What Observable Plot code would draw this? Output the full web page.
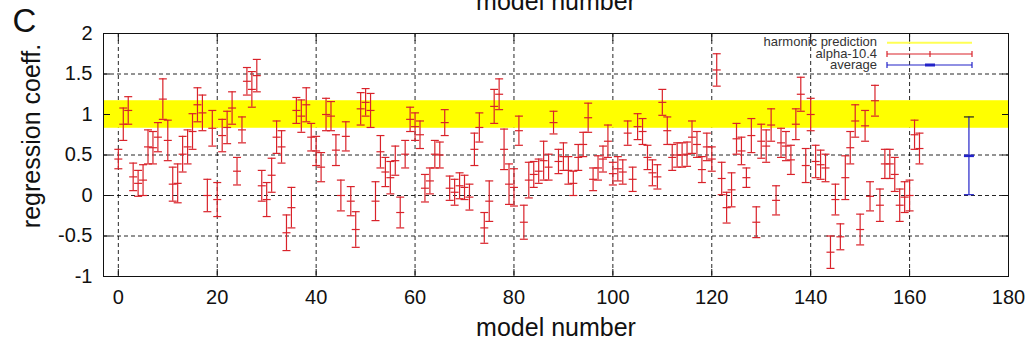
<!DOCTYPE html>
<html><head><meta charset="utf-8">
<script src="https://cdn.jsdelivr.net/npm/d3@7"></script>
<script src="https://cdn.jsdelivr.net/npm/@observablehq/plot@0.6"></script>
<style>
html,body{margin:0;padding:0;background:#fff;}
#chart{width:1034px;height:345px;overflow:hidden;position:relative;}
svg{display:block;}
</style>
</head><body><div id="chart"></div>
<script>
// ---- data ----
const coeffValues = [
0.45, 0.88, 1.05, 0.23, 0.15, 0.19, 0.6, 0.59, 0.72, 1.19,
0.68, 0.14, 0.15, 0.51, 0.6, 0.79, 1.12, 1.02, 0.0, 0.83,
-0.05, 0.74, 0.84, 1.08, 0.3, 0.81, 1.41, 1.31, 1.48, 0.12,
-0.05, 0.25, 0.72, 0.6, -0.46, -0.15, 1.05, 0.98, 1.12, 0.72,
0.55, 0.35, 1.0, 0.98, 0.56, 0.0, 0.73, -0.07, -0.42, 1.07,
1.15, 1.05, -0.07, 0.54, 0.29, 0.22, 0.43, -0.21, 0.51, 0.94,
0.85, 0.75, 0.09, 0.18, 0.51, 0.5, 0.9, 0.09, 0.04, 0.12,
0.1, -0.02, 0.57, 0.84, -0.4, -0.07, 1.1, 1.25, 0.57, 0.14,
0.1, 0.8, -0.33, 0.19, 0.26, 0.3, 0.43, 0.35, 0.9, 0.42,
0.48, 0.31, 0.15, 0.47, 0.63, 0.96, 0.2, 0.34, 0.45, 0.67,
0.27, 0.33, 0.29, 0.77, 0.2, 0.85, 0.79, 0.47, 0.28, 0.23,
1.15, 0.8, 0.47, 0.5, 0.5, 0.51, 0.72, 0.63, 0.32, 0.6,
0.45, 1.55, 0.21, -0.15, 0.07, 0.7, 0.55, 0.22, 0.74, -0.33,
0.67, 0.61, 0.87, -0.06, 0.65, 0.61, 0.44, 0.88, 1.25, 0.37,
1.0, 0.42, 0.38, 0.34, -0.7, -0.05, -0.51, 0.22, 0.59, 0.92,
-0.42, 0.86, -0.01, 1.17, -0.12, 0.39, 0.39, 0.26, -0.12, -0.02,
0.0, 0.75, 0.58
];
const coeffErrors = [
0.12, 0.2, 0.17, 0.17, 0.16, 0.19, 0.21, 0.2, 0.18, 0.25,
0.25, 0.21, 0.24, 0.22, 0.21, 0.22, 0.21, 0.22, 0.2, 0.22,
0.21, 0.2, 0.2, 0.2, 0.17, 0.16, 0.17, 0.22, 0.2, 0.19,
0.21, 0.21, 0.2, 0.2, 0.22, 0.25, 0.16, 0.2, 0.21, 0.17,
0.18, 0.18, 0.2, 0.18, 0.19, 0.19, 0.18, 0.18, 0.22, 0.2,
0.17, 0.21, 0.24, 0.2, 0.18, 0.2, 0.18, 0.19, 0.17, 0.15,
0.17, 0.17, 0.17, 0.16, 0.17, 0.16, 0.16, 0.15, 0.16, 0.16,
0.15, 0.16, 0.2, 0.18, 0.19, 0.25, 0.21, 0.19, 0.25, 0.25,
0.23, 0.18, 0.21, 0.22, 0.16, 0.15, 0.24, 0.16, 0.14, 0.15,
0.17, 0.17, 0.15, 0.16, 0.15, 0.18, 0.14, 0.15, 0.16, 0.2,
0.14, 0.15, 0.15, 0.15, 0.15, 0.16, 0.16, 0.15, 0.16, 0.15,
0.16, 0.17, 0.16, 0.15, 0.15, 0.15, 0.2, 0.16, 0.16, 0.17,
0.15, 0.2, 0.2, 0.19, 0.21, 0.19, 0.17, 0.12, 0.21, 0.19,
0.21, 0.2, 0.2, 0.18, 0.18, 0.18, 0.18, 0.19, 0.21, 0.21,
0.2, 0.2, 0.18, 0.17, 0.2, 0.19, 0.16, 0.27, 0.2, 0.2,
0.19, 0.19, 0.18, 0.19, 0.2, 0.18, 0.18, 0.21, 0.2, 0.19,
0.19, 0.18, 0.19
];
const averageModel = [172];
const averageValue = [0.49];
const averageError = [0.48];
const harmonicLow = [0.83];
const harmonicHigh = [1.17];
const xTicks = [0, 20, 40, 60, 80, 100, 120, 140, 160, 180];
const yTicks = [-1, -0.5, 0, 0.5, 1, 1.5, 2];
const legendLabels = ["harmonic prediction", "alpha-10.4", "average"];

// ---- tables built from the arrays ----
const rows = coeffValues.map((v, i) => ({model: i, value: v, err: coeffErrors[i]}));
const avgRows = averageModel.map((m, i) => ({model: m, value: averageValue[i], err: averageError[i]}));
const band = harmonicLow.map((lo, i) => ({lo, hi: harmonicHigh[i]}));

const RED = "#d9222a";
const BLUE = "#2222c8";
const YELLOW = "#ffff00";
const FONT = "'Liberation Sans', Arial, Helvetica, sans-serif";

const capSmall = {draw(ctx) { ctx.moveTo(-4, 0); ctx.lineTo(4, 0); }};
const capWide = {draw(ctx) { ctx.moveTo(-5, 0); ctx.lineTo(5, 0); }};

const gridStyle = {stroke: "#000", strokeOpacity: 0.85, strokeDasharray: "4,3", strokeWidth: 1};

const chart = Plot.plot({
  width: 1034,
  height: 345,
  marginLeft: 103,
  marginRight: 26,
  marginTop: 33,
  marginBottom: 69,
  style: {fontFamily: FONT, background: "#fff", color: "#111"},
  x: {domain: [-3, 180]},
  y: {domain: [-1, 2]},
  marks: [
    Plot.gridX(xTicks, gridStyle),
    Plot.gridY(yTicks, gridStyle),
    Plot.rect(band, {y1: "lo", y2: "hi", fill: YELLOW}),
    // red error bars
    Plot.ruleX(rows, {x: "model", y1: d => d.value - d.err, y2: d => d.value + d.err, stroke: RED, strokeWidth: 1.2}),
    Plot.dot(rows, {x: "model", y: d => d.value - d.err, symbol: capSmall, stroke: RED, fill: "none", strokeWidth: 1.2}),
    Plot.dot(rows, {x: "model", y: d => d.value + d.err, symbol: capSmall, stroke: RED, fill: "none", strokeWidth: 1.2}),
    Plot.dot(rows, {x: "model", y: "value", symbol: capSmall, stroke: RED, fill: "none", strokeWidth: 1.2}),
    // average
    Plot.ruleX(avgRows, {x: "model", y1: d => d.value - d.err, y2: d => d.value + d.err, stroke: BLUE, strokeWidth: 1.2}),
    Plot.dot(avgRows, {x: "model", y: d => d.value - d.err, symbol: capWide, stroke: BLUE, fill: "none", strokeWidth: 1.2}),
    Plot.dot(avgRows, {x: "model", y: d => d.value + d.err, symbol: capWide, stroke: "#222", fill: "none", strokeWidth: 1.2}),
    Plot.dot(avgRows, {x: "model", y: "value", symbol: capWide, stroke: BLUE, fill: "none", strokeWidth: 2.6}),
    Plot.frame({stroke: "#111", strokeWidth: 1}),
    // inward ticks on all sides
    Plot.axisX(xTicks, {anchor: "bottom", tickSize: -7, fill: "none", label: null, stroke: "#111"}),
    Plot.axisX(xTicks, {anchor: "top", tickSize: -7, fill: "none", label: null, stroke: "#111"}),
    Plot.axisY(yTicks, {anchor: "left", tickSize: -7, fill: "none", label: null, stroke: "#111"}),
    Plot.axisY(yTicks, {anchor: "right", tickSize: -7, fill: "none", label: null, stroke: "#111"}),
    // tick labels
    Plot.axisX(xTicks, {anchor: "bottom", tickSize: 0, tickPadding: 13, fontSize: 20, label: null, tickFormat: d => String(d), fill: "#111"}),
    Plot.axisY(yTicks, {anchor: "left", tickSize: 0, tickPadding: 11, fontSize: 20, label: null, tickFormat: d => String(d), fill: "#111"}),
    // axis titles
    Plot.text(["model number"], {frameAnchor: "bottom", dy: 42, lineAnchor: "top", fontSize: 25, fill: "#111"}),
    Plot.text(["regression coeff."], {frameAnchor: "left", dx: -72, dy: -19, rotate: -90, textAnchor: "middle", lineAnchor: "middle", fontSize: 25, fill: "#111"}),
    // panel letter and cut-off title of the panel above
    Plot.text(["C"], {frameAnchor: "top-left", dx: -91, dy: -25, lineAnchor: "top", textAnchor: "start", fontSize: 33, fill: "#111"}),
    Plot.text(["model number"], {frameAnchor: "top", dy: -24, lineAnchor: "bottom", fontSize: 25, fill: "#111"})
  ]
});

document.getElementById("chart").appendChild(chart);

// ---- legend inside the plot, top right ----
const svg = d3.select(chart);
const lg = svg.append("g").attr("font-family", FONT).attr("font-size", 13).attr("fill", "#333");
const lx1 = 887, lx2 = 972, tx = 877;
const lineY = [42.7, 54, 65];
legendLabels.forEach((lab, i) => {
  lg.append("text").attr("x", tx).attr("y", lineY[i] + 3.5).attr("text-anchor", "end").text(lab);
});
lg.append("line").attr("x1", lx1).attr("x2", lx2).attr("y1", lineY[0]).attr("y2", lineY[0])
  .attr("stroke", "#ffff55").attr("stroke-width", 2);
[[1, RED], [2, BLUE]].forEach(([i, c]) => {
  const y = lineY[i];
  const g = lg.append("g").attr("stroke", c).attr("stroke-width", 1.2);
  g.append("line").attr("x1", lx1).attr("x2", lx2).attr("y1", y).attr("y2", y);
  g.append("line").attr("x1", lx1).attr("x2", lx1).attr("y1", y - 3).attr("y2", y + 3);
  g.append("line").attr("x1", lx2).attr("x2", lx2).attr("y1", y - 3).attr("y2", y + 3);
  if (i === 1) {
    g.append("line").attr("x1", 930).attr("x2", 930).attr("y1", y - 3).attr("y2", y + 3);
  } else {
    g.append("line").attr("x1", 925).attr("x2", 935).attr("y1", y).attr("y2", y).attr("stroke-width", 3);
  }
});
</script>
</body></html>
